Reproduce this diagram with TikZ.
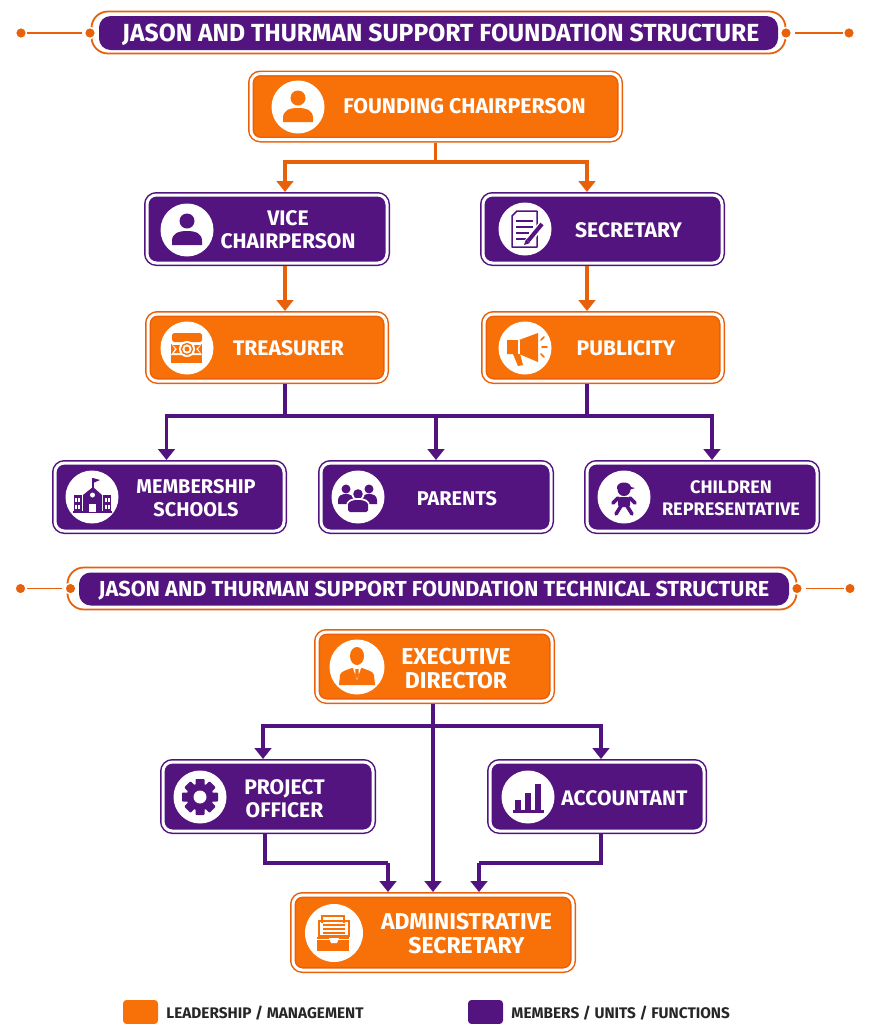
\documentclass[tikz,border=0pt]{standalone}
\usepackage{fontspec}
\setmainfont{Fira Sans}
\usepackage{tikz}
\usetikzlibrary{arrows.meta,positioning,shadows,calc}
\definecolor{orgfill}{HTML}{F77108}
\definecolor{orgline}{HTML}{E9600A}
\definecolor{purfill}{HTML}{53147F}
\definecolor{purline}{HTML}{501380}
\newcommand{\px}{0.03cm}

\tikzset{
  % --- icons, drawn around their circle ---
  personicon/.pic={
    \fill[#1] (0,-9) circle [radius=7.5];
    \fill[#1] (-15,15) -- (-15,11) .. controls (-15,3) and (-8,1) .. (0,1)
      .. controls (8,1) and (15,3) .. (15,11) -- (15,15) -- cycle;
  },
  suiticon/.pic={
    \fill[#1] (0,-11) ellipse [x radius=7, y radius=9];
    \fill[#1] (-18,18) -- (-17,8) .. controls (-16,4) and (-10,3) .. (-5,1)
      -- (5,1) .. controls (10,3) and (16,4) .. (17,8) -- (18,18) -- cycle;
    \fill[white] (-4,1) -- (4,1) -- (0,13) -- cycle;
    \fill[#1] (-1.5,2) -- (1.5,2) -- (1.8,8) -- (0,12) -- (-1.8,8) -- cycle;
  },
  paperpicon/.pic={
    \draw[#1, line width=1.5*\px, line join=round] (-8,-18) -- (12,-18) -- (12,18) -- (-13,18)
      -- (-13,-13) -- cycle;
    \foreach \yy/\xx in {-8/8,-2/8,4/4,10/1}
      \draw[#1, line width=2.2*\px] (-9,\yy) -- (\xx,\yy);
    \draw[white, line width=7*\px] (1,15) -- (18,-6);
    \draw[#1, line width=4*\px] (3,12) -- (17,-5);
    \fill[#1] (-1,16) -- (1,10) -- (5,14) -- cycle;
  },
  hornicon/.pic={
    \fill[#1] (-18,-8) -- (-6,-8) -- (13,-15) -- (13,14) -- (-6,6) -- (-18,6) -- cycle;
    \fill[#1] (-12,6) -- (-5,6) -- (-2,17) -- (-7,18) -- cycle;
    \draw[white, line width=1.2*\px] (-6,-8) -- (-6,6);
    \draw[#1, line width=1.6*\px, line cap=round] (16,-8) -- (19,-11)
      (17,-1) -- (22,-1) (16,6) -- (19,9);
  },
  chesticon/.pic={
    \fill[#1, rounded corners=1.5pt] (-15,-15) rectangle (15,-6);
    \fill[#1] (-16,-4) rectangle (15,15);
    \fill[white] (-16,-5) -- (-5,-5) -- (-5,7) -- (-16,7) -- (-12,1) -- cycle;
    \fill[white] (15,-5) -- (5,-5) -- (5,7) -- (15,7) -- (11,1) -- cycle;
    \fill[#1] (-14,-3) -- (-7,-3) -- (-7,5) -- (-13,5) -- (-10,1) -- cycle;
    \fill[#1] (13,-3) -- (7,-3) -- (7,5) -- (13,5) -- (9,1) -- cycle;
    \fill[white] (0,1) circle [radius=8];
    \draw[#1, line width=1.4*\px] (0,1) circle [radius=5.5];
    \fill[#1] (0,1) circle [radius=2.5];
  },
  schoolicon/.pic={
    \draw[#1, line width=1.2*\px] (1,-7) -- (1,-19);
    \fill[#1] (1,-19) -- (8,-17) -- (1,-14) -- cycle;
    \fill[#1] (-9,-2) -- (1,-10) -- (10,-2) -- (10,15) -- (-9,15) -- cycle;
    \fill[#1] (-18,-2) rectangle (-10,15);
    \fill[#1] (11,-2) rectangle (19,15);
    \fill[#1] (-19,14) rectangle (20,16);
    \fill[white] (-3,7) rectangle (4,15);
    \fill[white] (0.5,-2) circle [radius=2.5];
    \foreach \xx in {-16,-13,14,17}
      \foreach \yy in {1,8}
        \fill[white] (\xx-1,\yy) rectangle (\xx+1,\yy+3.5);
  },
  groupicon/.pic={
    \fill[#1] (-12,-8) circle [radius=4.5];
    \fill[#1] (11,-8) circle [radius=4.5];
    \fill[#1] (-20,7) -- (-20,3) .. controls (-20,-2) and (-15,-3) .. (-12,-3)
      .. controls (-9,-3) and (-5,-2) .. (-4,2) -- (-10,7) -- cycle;
    \fill[#1] (19,7) -- (19,3) .. controls (19,-2) and (14,-3) .. (11,-3)
      .. controls (8,-3) and (4,-2) .. (3,2) -- (9,7) -- cycle;
    \fill[white] (0,-3) circle [radius=6.5];
    \fill[#1] (0,-3) circle [radius=4.8];
    \fill[white] (-12,15) -- (-12,9) .. controls (-12,3) and (-6,1) .. (0,1)
      .. controls (6,1) and (12,3) .. (12,9) -- (12,15) -- cycle;
    \fill[#1, rounded corners=1.5pt] (-10,15) -- (-10,9) .. controls (-10,5) and (-5,3) .. (0,3)
      .. controls (5,3) and (10,5) .. (10,9) -- (10,15) -- cycle;
  },
  childicon/.pic={
    \fill[#1] (0,-7.5) circle [radius=6.5];
    \fill[#1] (-7,-10) .. controls (-6,-16) and (6,-16) .. (7,-10) -- (11,-9) -- (5,-7) -- (-7,-8) -- cycle;
    \fill[#1, rounded corners=1.5pt] (-6,0) -- (6,0) -- (6,10) -- (-6,10) -- cycle;
    \draw[#1, line width=3.6*\px, line cap=round] (-6,1) -- (-11,6)
      (6,1) -- (11,6) (-3,9) -- (-8,17) (3,9) -- (8,17);
  },
  gearicon/.pic={
    \foreach \aa in {0,45,...,315}
      \fill[#1, rotate=\aa, rounded corners=0.8pt] (-4.5,-12) rectangle (4.5,-18);
    \fill[#1] (0,0) circle [radius=13.5];
    \fill[white] (0,0) circle [radius=6.5];
  },
  barsicon/.pic={
    \fill[#1] (-13,3) rectangle (-7,13);
    \fill[#1] (-3,-4) rectangle (3,13);
    \fill[#1] (7,-13) rectangle (13,13);
    \fill[#1] (-15,13) rectangle (16,15.5);
  },
  trayicon/.pic={
    \draw[#1, line width=1.6*\px] (-12,-17) rectangle (10,-4);
    \draw[#1, line width=1.6*\px] (-15,-12) rectangle (15,3);
    \fill[white] (-13,-10) rectangle (13,1);
    \foreach \yy in {-8,-4,0}
      \draw[#1, line width=1.6*\px] (-11,\yy) -- (11,\yy);
    \fill[#1] (-17,4) rectangle (15,18);
    \fill[white] (-17,5.5) rectangle (15,7);
    \fill[white] (-5,5) -- (5,5) -- (3,10) -- (-3,10) -- cycle;
  }
}

\begin{document}
\begin{tikzpicture}[x=\px, y=-\px,
    orgbox/.style={draw=orgline, double=white, double distance=3*\px, line width=1.5*\px,
      fill=orgfill, rounded corners=8pt, outer sep=3*\px,
      drop shadow={shadow xshift=1.5pt, shadow yshift=-2pt, opacity=0.13}},
    purbox/.style={orgbox, draw=purline, fill=purfill},
    iconcirc/.style={circle, fill=white, inner sep=0pt, minimum size=53*\px},
    lab/.style={align=center, text=white, inner sep=0pt, yshift=-0.3*\px,
      font=\fontsize{18}{19.7}\selectfont\bfseries},
    labbig/.style={lab, font=\fontsize{19.6}{20.2}\selectfont\bfseries},
    labsmall/.style={lab, font=\fontsize{17}{19.2}\selectfont\bfseries},
    labtiny/.style={lab, font=\fontsize{15.5}{19.2}\selectfont\bfseries},
    barout/.style={draw=orgline, line width=1.8*\px, fill=white, rounded corners=14pt},
    bartitle/.style={fill=purfill, rounded corners=10pt, text=white, inner sep=0pt,
      font=\fontsize{21.1}{24}\selectfont\bfseries},
    dot/.style={circle, fill=orgline, draw=white, line width=1.5*\px, inner sep=0pt, minimum size=11*\px},
    tick/.style={orgline, line width=1.8*\px},
    orgarr/.style={-{Triangle[length=3.3mm, width=5mm]}, orgline, line width=3.1*\px},
    purarr/.style={-{Triangle[length=3.3mm, width=5mm]}, purline, line width=3.1*\px},
    orgseg/.style={orgline, line width=3.1*\px},
    purseg/.style={purline, line width=3.1*\px},
    swatch/.style={rounded corners=3pt, minimum width=35*\px, minimum height=24*\px, inner sep=0pt},
    keytext/.style={anchor=west, inner sep=0pt, yshift=-0.6*\px,
      font=\fontsize{13.1}{15}\selectfont\bfseries, text=black!85}
]
\useasboundingbox (0,0) rectangle (872,1024);

% --- First title ---
\node[barout, minimum width=694*\px, minimum height=42*\px] (bara) at (438.5,32.5) {};
\node[bartitle, minimum width=679*\px, minimum height=34*\px] (titlea) at (438.5,33) {\hspace*{4pt}\raisebox{-7pt}[0pt][0pt]{JASON AND THURMAN SUPPORT FOUNDATION STRUCTURE}};
\node[dot] (dota) at (21,33) {};
\node[dot] (dotb) at (90,33) {};
\node[dot] (dotc) at (786,33) {};
\node[dot] (dotd) at (849,33) {};
\draw[tick, shorten >=2*\px] (dota) -- (dotb);
\draw[tick, shorten <=3*\px] (dotc) -- (dotd);

% --- Upper blocks ---
\node[orgbox, minimum width=369*\px, minimum height=66*\px] (found) at (435.5,106.5) {};
\node[purbox, minimum width=240*\px, minimum height=68*\px] (vice) at (267,229) {};
\node[purbox, minimum width=239*\px, minimum height=68*\px] (secr) at (602.5,229) {};
\node[orgbox, minimum width=238*\px, minimum height=67*\px] (treas) at (267,347.5) {};
\node[orgbox, minimum width=238*\px, minimum height=67*\px] (publ) at (603,347.5) {};
\node[purbox, minimum width=229*\px, minimum height=68*\px] (memb) at (169.5,497) {};
\node[purbox, minimum width=230*\px, minimum height=68*\px] (pare) at (436,497) {};
\node[purbox, minimum width=230*\px, minimum height=68*\px] (chil) at (702,497) {};

\node[iconcirc] (foundic) at (298,107) {};
\node[iconcirc] (viceic) at (187,230) {};
\node[iconcirc] (secric) at (525,229) {};
\node[iconcirc] (treasic) at (187,348) {};
\node[iconcirc] (public) at (525,348) {};
\node[iconcirc] (membic) at (92,497) {};
\node[iconcirc] (pareic) at (358,497) {};
\node[iconcirc] (chilic) at (624,497) {};
\pic at (foundic) {personicon=orgfill};
\pic at (viceic) {personicon=purfill};
\pic at (secric) {paperpicon=purfill};
\pic at (treasic) {chesticon=orgfill};
\pic at (public) {hornicon=orgfill};
\pic at (membic) {schoolicon=purfill};
\pic at (pareic) {groupicon=purfill};
\pic at (chilic) {childicon=purfill};

\node[lab, font=\fontsize{18.2}{20}\selectfont\bfseries] (foundtx) at (464.5,106) {FOUNDING CHAIRPERSON};
\node[lab] (vicetx) at (288,229.5) {VICE\\CHAIRPERSON};
\node[lab] (secrtx) at (628.5,230) {SECRETARY};
\node[lab] (treastx) at (288.5,348) {TREASURER};
\node[lab] (publtx) at (626,348) {PUBLICITY};
\node[labsmall] (membtx) at (196,498) {MEMBERSHIP\\SCHOOLS};
\node[labsmall] (paretx) at (457,498) {PARENTS};
\node[labtiny] (chiltx) at (731,498) {CHILDREN\\REPRESENTATIVE};

% --- Upper connectors ---
\coordinate (forka) at (435.5,162);
\coordinate (busa) at (436,416);
\draw[orgseg] (found.south) -- (forka);
\draw[orgarr] (forka) -| ([xshift=18*\px]vice.north);
\draw[orgarr] (forka) -| ([xshift=-15.5*\px]secr.north);
\draw[orgarr] ([xshift=18*\px]vice.south) -- ([xshift=18*\px]treas.north);
\draw[orgarr] ([xshift=-15.5*\px]secr.south) -- ([xshift=-16*\px]publ.north);
\draw[purseg] ([xshift=18*\px]treas.south) |- (busa);
\draw[purseg] ([xshift=-16*\px]publ.south) |- (busa);
\draw[purarr] (busa) -| ([xshift=-3*\px]memb.north);
\draw[purarr] (busa) -- (pare.north);
\draw[purarr] (busa) -| ([xshift=10*\px]chil.north);

% --- Second title ---
\node[barout, minimum width=729*\px, minimum height=42*\px] (barb) at (432,588.5) {};
\node[bartitle, minimum width=710*\px, minimum height=33*\px, font=\fontsize{18.5}{22}\selectfont\bfseries] (titleb) at (434,589) {\raisebox{-6.4pt}[0pt][0pt]{JASON AND THURMAN SUPPORT FOUNDATION TECHNICAL STRUCTURE}};
\node[dot] (dote) at (20.5,588.5) {};
\node[dot] (dotf) at (70.5,588.5) {};
\node[dot] (dotg) at (797,588.5) {};
\node[dot] (doth) at (850,588.5) {};
\draw[tick, shorten >=2*\px] (dote) -- (dotf);
\draw[tick, shorten <=3*\px] (dotg) -- (doth);

% --- Lower blocks ---
\node[orgbox, minimum width=235*\px, minimum height=69*\px] (exec) at (434.5,666.5) {};
\node[purbox, minimum width=210*\px, minimum height=69*\px] (proj) at (268,796.5) {};
\node[purbox, minimum width=214*\px, minimum height=69*\px] (acct) at (597,796.5) {};
\node[orgbox, minimum width=280*\px, minimum height=75*\px] (admn) at (433,932.5) {};

\node[iconcirc, minimum size=55*\px] (execic) at (357,667) {};
\node[iconcirc] (projic) at (200,797) {};
\node[iconcirc] (acctic) at (528,797) {};
\node[iconcirc, minimum size=58*\px] (admnic) at (334,933) {};
\pic at (execic) {suiticon=orgfill};
\pic at (projic) {gearicon=purfill};
\pic at (acctic) {barsicon=purfill};
\pic at (admnic) {trayicon=orgfill};

\node[labbig] (exectx) at (456,668) {EXECUTIVE\\DIRECTOR};
\node[lab] (projtx) at (284.5,798) {PROJECT\\OFFICER};
\node[lab] (accttx) at (624.5,798) {ACCOUNTANT};
\node[labbig] (admntx) at (466.5,933) {ADMINISTRATIVE\\SECRETARY};

% --- Lower connectors ---
\coordinate (forkb) at (433,726);
\coordinate (joinl) at (388,863);
\coordinate (joinr) at (479,863);
\draw[purarr] (exec.south -| admn.north) -- (admn.north);
\draw[purarr] (forkb) -| ([xshift=-5*\px]proj.north);
\draw[purarr] (forkb) -| ([xshift=4*\px]acct.north);
\draw[purseg] ([xshift=-3*\px]proj.south) |- (joinl);
\draw[purarr] (joinl) -- (joinl |- admn.north);
\draw[purseg] ([xshift=4*\px]acct.south) |- (joinr);
\draw[purarr] (joinr) -- (joinr |- admn.north);

% --- Legend ---
\node[swatch, fill=orgfill] (keya) at (140.5,1012) {};
\node[keytext, right=8*\px of keya] (keyatx) {LEADERSHIP / MANAGEMENT};
\node[swatch, fill=purfill] (keyb) at (485.5,1012) {};
\node[keytext, right=8*\px of keyb] (keybtx) {MEMBERS / UNITS / FUNCTIONS};
\end{tikzpicture}
\end{document}
